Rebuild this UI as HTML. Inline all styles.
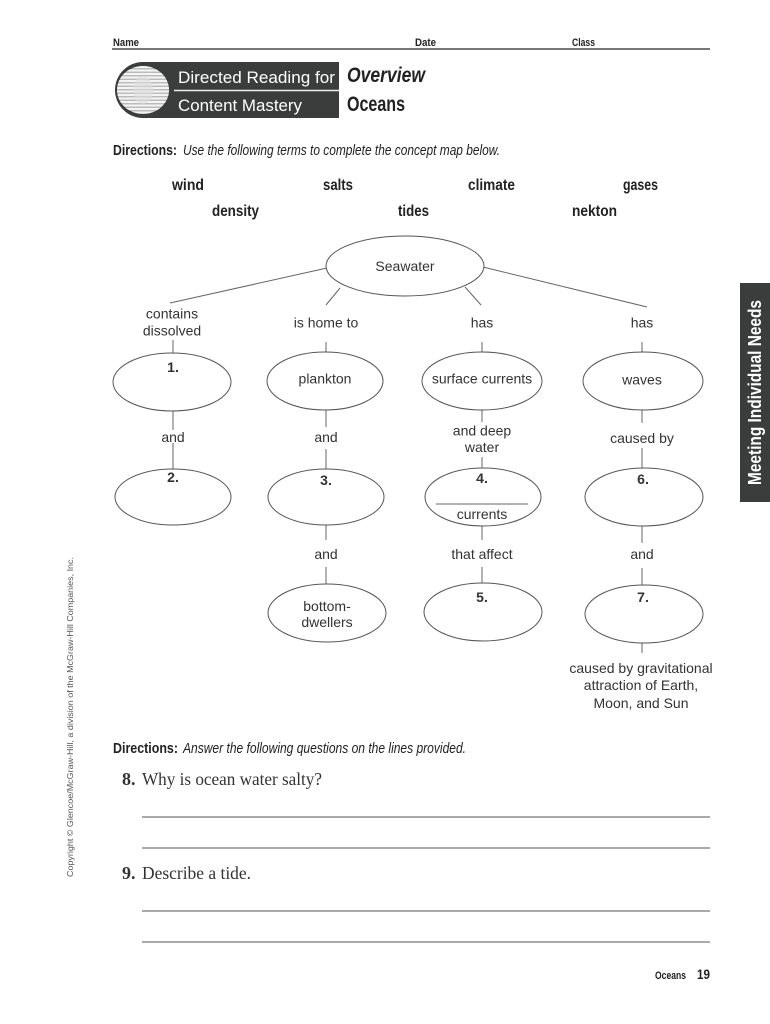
<!DOCTYPE html>
<html><head><meta charset="utf-8"><style>
html,body{margin:0;padding:0;background:#fff;}
svg{display:block;}
.h{font-family:"Liberation Sans Narrow","Liberation Sans",sans-serif;font-weight:bold;fill:#222;}
.m{font-family:"Liberation Sans",sans-serif;font-size:14px;fill:#333;text-anchor:middle;}
.mb{font-family:"Liberation Sans",sans-serif;font-size:14px;fill:#333;text-anchor:middle;font-weight:bold;}
.s{font-family:"Liberation Serif",serif;fill:#333;}
</style></head><body>
<svg width="770" height="1024" viewBox="0 0 770 1024" xmlns="http://www.w3.org/2000/svg">
<defs>
<clipPath id="cl"><ellipse cx="143" cy="90" rx="26" ry="24"/></clipPath>
</defs>
<!-- header -->
<text class="h" x="113" y="46" font-size="11" textLength="26" lengthAdjust="spacingAndGlyphs">Name</text>
<text class="h" x="415" y="46" font-size="11" textLength="21" lengthAdjust="spacingAndGlyphs">Date</text>
<text class="h" x="572" y="46" font-size="11" textLength="23" lengthAdjust="spacingAndGlyphs">Class</text>
<line x1="112" y1="49" x2="710" y2="49" stroke="#777" stroke-width="2"/>

<!-- logo -->
<ellipse cx="143" cy="90" rx="28" ry="28" fill="#3a3d3c"/>
<rect x="143" y="62" width="196" height="56" fill="#3a3d3c"/>
<g clip-path="url(#cl)">
<rect x="115" y="64" width="56" height="52" fill="#bbb"/>
<g stroke="#f4f4f4" stroke-width="2">
<line x1="110" y1="67" x2="175" y2="67"/><line x1="110" y1="70.5" x2="175" y2="70.5"/>
<line x1="110" y1="74" x2="175" y2="74"/><line x1="110" y1="77.5" x2="175" y2="77.5"/>
<line x1="110" y1="81" x2="175" y2="81"/><line x1="110" y1="84.5" x2="175" y2="84.5"/>
<line x1="110" y1="88" x2="175" y2="88"/><line x1="110" y1="91.5" x2="175" y2="91.5"/>
<line x1="110" y1="95" x2="175" y2="95"/><line x1="110" y1="98.5" x2="175" y2="98.5"/>
<line x1="110" y1="102" x2="175" y2="102"/><line x1="110" y1="105.5" x2="175" y2="105.5"/>
<line x1="110" y1="109" x2="175" y2="109"/><line x1="110" y1="112.5" x2="175" y2="112.5"/>
</g>
<ellipse cx="143" cy="90" rx="10" ry="14" fill="#ddd" opacity="0.6"/>
</g>
<line x1="174" y1="90.5" x2="339" y2="90.5" stroke="#eee" stroke-width="1.5"/>
<text x="178" y="83" font-family="Liberation Sans Narrow,Liberation Sans,sans-serif" font-size="16.5" fill="#fff" textLength="157" lengthAdjust="spacingAndGlyphs">Directed Reading for</text>
<text x="178" y="111" font-family="Liberation Sans Narrow,Liberation Sans,sans-serif" font-size="16.5" fill="#fff" textLength="124" lengthAdjust="spacingAndGlyphs">Content Mastery</text>
<text class="h" x="347" y="82" font-size="21" font-style="italic" textLength="78" lengthAdjust="spacingAndGlyphs">Overview</text>
<text class="h" x="347" y="111" font-size="21" textLength="58" lengthAdjust="spacingAndGlyphs">Oceans</text>

<!-- directions 1 -->
<text class="h" x="113" y="155" font-size="15" textLength="64" lengthAdjust="spacingAndGlyphs">Directions:</text>
<text x="183" y="155" font-family="Liberation Sans Narrow,Liberation Sans,sans-serif" font-size="15" font-style="italic" fill="#222" textLength="317" lengthAdjust="spacingAndGlyphs">Use the following terms to complete the concept map below.</text>

<!-- terms -->
<text class="h" x="172" y="190" font-size="16" textLength="32" lengthAdjust="spacingAndGlyphs">wind</text>
<text class="h" x="323" y="190" font-size="16" textLength="30" lengthAdjust="spacingAndGlyphs">salts</text>
<text class="h" x="468" y="190" font-size="16" textLength="47" lengthAdjust="spacingAndGlyphs">climate</text>
<text class="h" x="623" y="190" font-size="16" textLength="35" lengthAdjust="spacingAndGlyphs">gases</text>
<text class="h" x="212" y="216" font-size="16" textLength="47" lengthAdjust="spacingAndGlyphs">density</text>
<text class="h" x="398" y="216" font-size="16" textLength="31" lengthAdjust="spacingAndGlyphs">tides</text>
<text class="h" x="572" y="216" font-size="16" textLength="45" lengthAdjust="spacingAndGlyphs">nekton</text>

<!-- concept map lines -->
<g stroke="#666" stroke-width="1" fill="none">
<line x1="327" y1="268" x2="170" y2="303"/>
<line x1="340" y1="288" x2="326" y2="305"/>
<line x1="465" y1="287" x2="481" y2="305"/>
<line x1="483" y1="267" x2="647" y2="307"/>

<line x1="173" y1="340" x2="173" y2="353"/>
<line x1="173" y1="411" x2="173" y2="430"/>
<line x1="173" y1="443" x2="173" y2="469"/>

<line x1="326" y1="342" x2="326" y2="352"/>
<line x1="326" y1="410" x2="326" y2="427"/>
<line x1="326" y1="449" x2="326" y2="469"/>
<line x1="326" y1="525" x2="326" y2="540"/>
<line x1="326" y1="567" x2="326" y2="584"/>

<line x1="482" y1="342" x2="482" y2="352"/>
<line x1="482" y1="410" x2="482" y2="422"/>
<line x1="482" y1="457" x2="482" y2="468"/>
<line x1="482" y1="526" x2="482" y2="540"/>
<line x1="482" y1="567" x2="482" y2="583"/>

<line x1="642" y1="342" x2="642" y2="352"/>
<line x1="642" y1="410" x2="642" y2="423"/>
<line x1="642" y1="448" x2="642" y2="468"/>
<line x1="642" y1="526" x2="642" y2="543"/>
<line x1="642" y1="568" x2="642" y2="585"/>
<line x1="642" y1="643" x2="642" y2="653"/>

<line x1="436" y1="504" x2="528" y2="504"/>
</g>
<g stroke="#555" stroke-width="1" fill="#fff">
<ellipse cx="405" cy="266" rx="79" ry="30"/>
<ellipse cx="172" cy="382" rx="59" ry="29"/>
<ellipse cx="325" cy="381" rx="58" ry="29"/>
<ellipse cx="482" cy="381" rx="60" ry="29"/>
<ellipse cx="643" cy="381" rx="60" ry="29"/>
<ellipse cx="173" cy="497" rx="58" ry="28"/>
<ellipse cx="326" cy="497" rx="58" ry="28"/>
<ellipse cx="644" cy="497" rx="59" ry="29"/>
<ellipse cx="327" cy="613" rx="59" ry="29"/>
<ellipse cx="483" cy="612" rx="59" ry="29"/>
<ellipse cx="644" cy="614" rx="59" ry="29"/>
</g>
<ellipse cx="483" cy="497" rx="58" ry="29" stroke="#555" stroke-width="1" fill="none"/>
<line x1="436" y1="504" x2="528" y2="504" stroke="#666" stroke-width="1"/>

<!-- concept map text -->
<text class="m" x="405" y="271">Seawater</text>
<text class="m" x="172" y="318.5">contains</text>
<text class="m" x="172" y="335.5">dissolved</text>
<text class="m" x="326" y="327.5">is home to</text>
<text class="m" x="482" y="327.5">has</text>
<text class="m" x="642" y="327.5">has</text>

<text class="mb" x="173" y="372">1.</text>
<text class="m" x="325" y="383.5">plankton</text>
<text class="m" x="482" y="383.5">surface currents</text>
<text class="m" x="642" y="384.5">waves</text>

<text class="m" x="173" y="442">and</text>
<text class="m" x="326" y="442">and</text>
<text class="m" x="482" y="435.5">and deep</text>
<text class="m" x="482" y="452">water</text>
<text class="m" x="642" y="443">caused by</text>

<text class="mb" x="173" y="482">2.</text>
<text class="mb" x="326" y="485">3.</text>
<text class="mb" x="482" y="483">4.</text>
<text class="m" x="482" y="519">currents</text>
<text class="mb" x="643" y="484">6.</text>

<text class="m" x="326" y="559">and</text>
<text class="m" x="482" y="559">that affect</text>
<text class="m" x="642" y="559">and</text>

<text class="m" x="327" y="611">bottom-</text>
<text class="m" x="327" y="627">dwellers</text>
<text class="mb" x="482" y="602">5.</text>
<text class="mb" x="643" y="602">7.</text>

<text class="m" x="641" y="673">caused by gravitational</text>
<text class="m" x="641" y="690">attraction of Earth,</text>
<text class="m" x="641" y="708">Moon, and Sun</text>

<!-- side tab -->
<rect x="740" y="283" width="30" height="219" fill="#3a3d3c"/>
<text x="0" y="0" transform="translate(761,485) rotate(-90)" font-family="Liberation Sans Narrow,Liberation Sans,sans-serif" font-weight="bold" font-size="18" fill="#fff" textLength="185" lengthAdjust="spacingAndGlyphs">Meeting Individual Needs</text>

<!-- copyright -->
<text x="0" y="0" transform="translate(73,877) rotate(-90)" font-family="Liberation Sans,sans-serif" font-size="8.5" fill="#555" textLength="320" lengthAdjust="spacingAndGlyphs">Copyright © Glencoe/McGraw-Hill, a division of the McGraw-Hill Companies, Inc.</text>

<!-- directions 2 -->
<text class="h" x="113" y="753" font-size="15" textLength="65" lengthAdjust="spacingAndGlyphs">Directions:</text>
<text x="183" y="753" font-family="Liberation Sans Narrow,Liberation Sans,sans-serif" font-size="15" font-style="italic" fill="#222" textLength="283" lengthAdjust="spacingAndGlyphs">Answer the following questions on the lines provided.</text>

<text class="s" x="122" y="785" font-size="18" font-weight="bold">8.</text>
<text class="s" x="142" y="785" font-size="18" textLength="180" lengthAdjust="spacingAndGlyphs">Why is ocean water salty?</text>
<line x1="142" y1="817" x2="710" y2="817" stroke="#777" stroke-width="1.2"/>
<line x1="142" y1="848" x2="710" y2="848" stroke="#777" stroke-width="1.2"/>
<text class="s" x="122" y="879" font-size="18" font-weight="bold">9.</text>
<text class="s" x="142" y="879" font-size="18" textLength="109" lengthAdjust="spacingAndGlyphs">Describe a tide.</text>
<line x1="142" y1="911" x2="710" y2="911" stroke="#777" stroke-width="1.2"/>
<line x1="142" y1="942" x2="710" y2="942" stroke="#777" stroke-width="1.2"/>

<!-- footer -->
<text class="h" x="655" y="979" font-size="11" textLength="31" lengthAdjust="spacingAndGlyphs">Oceans</text>
<text class="h" x="697" y="979" font-size="14" textLength="13" lengthAdjust="spacingAndGlyphs">19</text>
</svg>
</body></html>
